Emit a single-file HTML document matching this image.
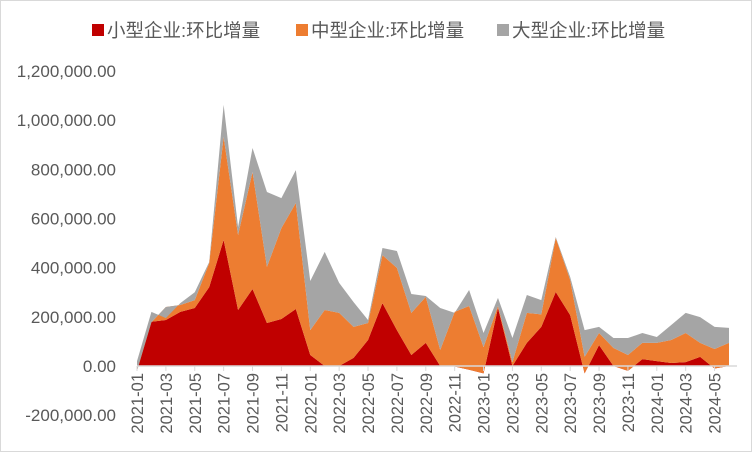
<!DOCTYPE html>
<html><head><meta charset="utf-8"><style>
body{margin:0;background:#fff;}
svg{display:block;font-family:"Liberation Sans","Noto Sans CJK SC",sans-serif;}
</style></head><body>
<svg id="chart" width="752" height="452">
<rect x="0.5" y="0.5" width="751" height="451" fill="#fff" stroke="#d9d9d9"/>
<g id="legend"></g>
<g id="yaxis"></g>
<g id="areas"></g>
<g id="xaxis"></g>
</svg>
<script>
const small=[-5,180,187,220,236,321,513,228,313,175,191,232,45,0,0,33,106,256,146,45,94,0,-2,-15,-30,236,0,94,159,301,207,-30,85,0,-20,28,20,12,16,37,-10,0];
const medium=[-15,-2,53,28,32,98,419,305,476,228,370,431,101,228,216,126,69,195,253,171,187,65,222,259,107,8,16,122,51,220,143,67,49,73,65,66,74,94,118,57,79,94];
const large=[40,42,-45,8,32,4,130,32,98,305,122,134,200,236,122,101,12,29,69,77,4,171,-4,65,57,33,98,73,58,4,12,109,25,41,69,40,24,61,82,105,90,61];
const seriesNames=["小型企业:环比增量","中型企业:环比增量","大型企业:环比增量"];
const colors=["#c00000","#ed7d31","#a5a5a5"];
const yTicks=[-200000,0,200000,400000,600000,800000,1000000,1200000];
const NS="http://www.w3.org/2000/svg";
const n=small.length;
const months=[];for(let i=0;i<n;i++){const y=2021+Math.floor(i/12),m=i%12+1;months.push(y+"-"+(m<10?"0":"")+m);}
const X0=137,X1=729;
function xs(i){return X0+(X1-X0)*i/(n-1);}
function ys(v){return 366-(v/1200000)*295;}
function mk(t,a,p){const e=document.createElementNS(NS,t);for(const k in a)e.setAttribute(k,a[k]);p.appendChild(e);return e;}
const ya=document.getElementById('yaxis');
yTicks.forEach(v=>{const t=mk('text',{x:116,y:ys(v)+6,'text-anchor':'end','font-size':17,fill:'#595959'},ya);


t.textContent=v.toLocaleString('en-US',{minimumFractionDigits:2,maximumFractionDigits:2});});
const ag=document.getElementById('areas');
const data=[small,medium,large].map(a=>a.map(v=>v*1000));
let prev=new Array(n).fill(0);
data.forEach((s,k)=>{const cum=prev.map((p,i)=>p+s[i]);
let d="M"+xs(0)+","+ys(cum[0]);
for(let i=1;i<n;i++)d+="L"+xs(i)+","+ys(cum[i]);
for(let i=n-1;i>=0;i--)d+="L"+xs(i)+","+ys(prev[i]);
const p=mk('path',{d:d+"Z",fill:colors[k]},ag);


prev=cum;});
const xa=document.getElementById('xaxis');
const ax=mk('line',{x1:X0,x2:X1+8,y1:366,y2:366,stroke:'#d9d9d9','stroke-width':1.5},xa);


for(let i=0;i<n;i+=2){
const tk=mk('line',{x1:xs(i),x2:xs(i),y1:366,y2:371,stroke:'#d9d9d9'},xa);


const t=mk('text',{x:0,y:0,'text-anchor':'end','font-size':16.5,fill:'#595959',transform:`translate(${xs(i)+6},373) rotate(-90)`},xa);


t.textContent=months[i];}
const lg=document.getElementById('legend');
const lx=[92,296,497];
seriesNames.forEach((nm,k)=>{
const r=mk('rect',{x:lx[k],y:24,width:12,height:12,fill:colors[k]},lg);


const t=mk('text',{x:lx[k]+15,y:37,'font-size':18.5,fill:'#595959'},lg);


t.textContent=nm;});
</script>
</body></html>
